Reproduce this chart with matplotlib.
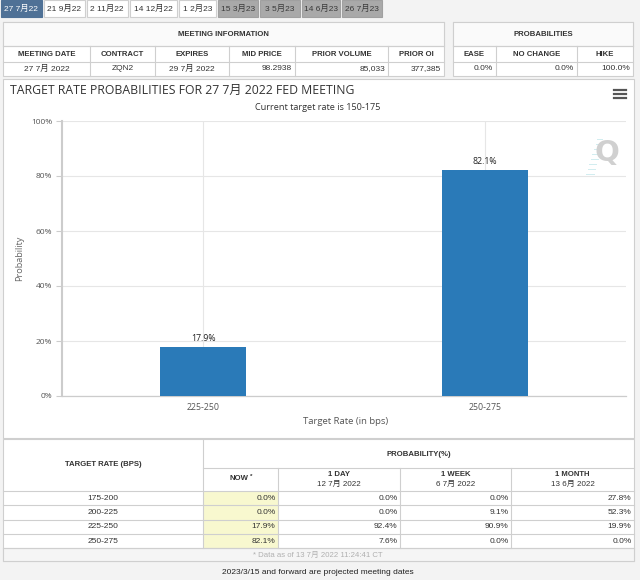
import matplotlib
matplotlib.use("Agg")
import matplotlib.pyplot as plt
from matplotlib.patches import Rectangle
from matplotlib.lines import Line2D

# ---------------- data ----------------
tabs = ['27 7月22', '21 9月22', '2 11月22', '14 12月22', '1 2月23',
        '15 3月23', '3 5月23', '14 6月23', '26 7月23']
tab_state = ['active', 'normal', 'normal', 'normal', 'normal',
             'proj', 'proj', 'proj', 'proj']

meeting_cols = ['MEETING DATE', 'CONTRACT', 'EXPIRES', 'MID PRICE', 'PRIOR VOLUME', 'PRIOR OI']
meeting_vals = ['27 7月 2022', 'ZQN2', '29 7月 2022', '98.2938', '85,033', '377,385']
prob_cols = ['EASE', 'NO CHANGE', 'HIKE']
prob_vals = ['0.0%', '0.0%', '100.0%']

categories = ['225-250', '250-275']
probabilities = [17.9, 82.1]
current_rate = '150-175'
meeting_label = '27 7月 2022'

rates = ['175-200', '200-225', '225-250', '250-275']
now_probs = [0.0, 0.0, 17.9, 82.1]
day_probs = [0.0, 0.0, 92.4, 7.6]
week_probs = [0.0, 9.1, 90.9, 0.0]
month_probs = [27.8, 52.3, 19.9, 0.0]
hist_headers = ['NOW', '1 DAY\n12 7月 2022', '1 WEEK\n6 7月 2022', '1 MONTH\n13 6月 2022']
data_note = '* Data as of 13 7月 2022 11:24:41 CT'
bottom_note = '2023/3/15 and forward are projected meeting dates'

# ---------------- layout helpers ----------------
W, H = 640, 580
fig = plt.figure(figsize=(W / 100, H / 100), dpi=100, facecolor='#f3f3f3')
TF = ['Liberation Sans', 'Noto Sans CJK SC', 'DejaVu Sans']
CF = ['Open Sans', 'Noto Sans CJK SC', 'DejaVu Sans']
BORDER = '#cfcfcf'


def fx(x):
    return x / W


def fy(y):
    return 1 - y / H


def rect(x0, y0, x1, y1, fc='white', ec=BORDER, lw=0.8, z=1):
    fig.add_artist(Rectangle((fx(x0), fy(y1)), (x1 - x0) / W, (y1 - y0) / H,
                             transform=fig.transFigure, fc=fc, ec=ec, lw=lw, zorder=z))


def hline(x0, x1, y, color=BORDER, lw=0.8, z=2):
    fig.add_artist(Line2D([fx(x0), fx(x1)], [fy(y), fy(y)], transform=fig.transFigure,
                          color=color, lw=lw, zorder=z))


def vline(x, y0, y1, color=BORDER, lw=0.8, z=2):
    fig.add_artist(Line2D([fx(x), fx(x)], [fy(y0), fy(y1)], transform=fig.transFigure,
                          color=color, lw=lw, zorder=z))


def txt(x, y, s, ha='center', size=5.8, weight='normal', color='#333333', family=TF, **kw):
    fig.text(fx(x), fy(y), s, ha=ha, va='center', fontsize=size, fontweight=weight,
             color=color, family=family, zorder=5, **kw)


# ---------------- tabs ----------------
tab_edges = [0, 43, 86, 129, 178, 217, 259, 301, 341, 383]
for i, name in enumerate(tabs):
    x0, x1 = tab_edges[i] + 0.5, tab_edges[i + 1] - 1
    st = tab_state[i]
    if st == 'active':
        fc, tc, ec = '#4f7196', 'white', '#4f7196'
    elif st == 'normal':
        fc, tc, ec = 'white', '#333333', BORDER
    else:
        fc, tc, ec = '#a9a9a9', '#3a3a3a', '#a0a0a0'
    rect(x0, 0, x1, 17, fc=fc, ec=ec)
    txt((x0 + x1) / 2, 9, name, size=6, color=tc)

# ---------------- meeting information ----------------
mx = [3, 90, 155, 229, 295, 388, 444]
rect(mx[0], 22, mx[-1], 76, fc='white')
rect(mx[0], 22, mx[-1], 46, fc='#fafafa')
txt((mx[0] + mx[-1]) / 2, 34, 'MEETING INFORMATION', size=5.6, weight='bold')
hline(mx[0], mx[-1], 46)
hline(mx[0], mx[-1], 62)
for i, (c, v) in enumerate(zip(meeting_cols, meeting_vals)):
    if i > 0:
        vline(mx[i], 46, 76)
    txt((mx[i] + mx[i + 1]) / 2, 54, c, size=5.6, weight='bold')
    if i < 3:
        txt((mx[i] + mx[i + 1]) / 2, 69, v, size=6)
    else:
        txt(mx[i + 1] - 3, 69, v, ha='right', size=6)

px = [453, 496, 577, 633]
rect(px[0], 22, px[-1], 76, fc='white')
rect(px[0], 22, px[-1], 46, fc='#fafafa')
txt((px[0] + px[-1]) / 2, 34, 'PROBABILITIES', size=5.6, weight='bold')
hline(px[0], px[-1], 46)
hline(px[0], px[-1], 62)
for i, (c, v) in enumerate(zip(prob_cols, prob_vals)):
    if i > 0:
        vline(px[i], 46, 76)
    txt((px[i] + px[i + 1]) / 2, 54, c, size=5.6, weight='bold')
    txt(px[i + 1] - 3, 69, v, ha='right', size=6)

# ---------------- chart panel ----------------
rect(3, 79, 634, 438, fc='white')
txt(10, 90, f'TARGET RATE PROBABILITIES FOR {meeting_label} FED MEETING', ha='left',
    size=8.8, color='#333333', family=CF)
txt(318, 107, f'Current target rate is {current_rate}', size=6.6, color='#333333', family=CF)
for yy in (90, 94, 98):
    hline(614, 626, yy, color='#555555', lw=1.6, z=6)

L, R, T, B = 62, 626, 121, 396
ax = fig.add_axes([fx(L), fy(B), (R - L) / W, (B - T) / H])
ax.set_zorder(3)
ax.set_facecolor('white')
xs = list(range(len(categories)))
bars = ax.bar(xs, probabilities, width=0.305, color='#2a7ab8', zorder=3)
for x, p in zip(xs, probabilities):
    ax.text(x, p + 1.5, f'{p:.1f}%', ha='center', va='bottom', fontsize=6.3,
            color='#222222', family=CF)
ax.set_xlim(-0.5, len(categories) - 0.5)
ax.set_ylim(0, 100)
ax.set_yticks([0, 20, 40, 60, 80, 100])
ax.set_yticklabels([f'{v}%' for v in [0, 20, 40, 60, 80, 100]])
ax.set_xticks(xs)
ax.set_xticklabels(categories)
ax.grid(True, axis='both', color='#e6e6e6', lw=0.8, zorder=0)
ax.set_axisbelow(True)
for s in ['top', 'right']:
    ax.spines[s].set_visible(False)
ax.spines['left'].set_color('#cccccc')
ax.spines['left'].set_linewidth(1.5)
ax.spines['bottom'].set_color('#cccccc')
ax.spines['bottom'].set_linewidth(0.9)
ax.tick_params(axis='y', length=4, width=0.8, color='#cccccc', pad=3,
               labelsize=6, labelcolor='#555555')
ax.tick_params(axis='x', length=0, pad=5, labelsize=6.3, labelcolor='#555555')
for lab in ax.get_xticklabels() + ax.get_yticklabels():
    lab.set_family(CF)
ax.set_ylabel('Probability', fontsize=6.6, color='#666666', family=CF)
ax.yaxis.set_label_coords((24 - L) / (R - L), 0.5)
ax.set_xlabel('Target Rate (in bps)', fontsize=6.8, color='#555555', family=CF)
ax.xaxis.set_label_coords(0.502, (B - 417) / (B - T))

# Q watermark (drawn above the axes)
fig.text(fx(607), fy(153), 'Q', ha='center', va='center', fontsize=21, fontweight='bold',
         color='#d0d0d0', family=['DejaVu Sans'], zorder=10)
for k in range(8):
    fig.add_artist(Line2D([fx(586 + k * 1.6), fx(594 + k * 1.2)],
                          [fy(174 - k * 5), fy(174 - k * 5)], transform=fig.transFigure,
                          color='#c5e8ec', lw=0.7, alpha=0.8, zorder=10))

# ---------------- bottom table ----------------
bx = [3, 203, 278, 400, 511, 634]
rect(bx[0], 439, bx[-1], 561, fc='white')
row_y = [491, 505.3, 519.6, 533.9, 548.2]
rect(bx[1], row_y[0], bx[2], row_y[-1], fc='#f8f8cf', ec='none', z=1.5)
rect(bx[0], 548.2, bx[-1], 561, fc='#f5f5f5', ec=BORDER, z=1.6)
hline(bx[1], bx[-1], 468)
hline(bx[0], bx[-1], 491)
for y in row_y[1:]:
    hline(bx[0], bx[-1], y)
vline(bx[1], 439, 548.2)
for x in bx[2:-1]:
    vline(x, 468, 548.2)
txt((bx[0] + bx[1]) / 2, 465, 'TARGET RATE (BPS)', size=5.6, weight='bold')
txt((bx[1] + bx[-1]) / 2, 455, 'PROBABILITY(%)', size=5.6, weight='bold')
for i, h in enumerate(hist_headers):
    cx = (bx[i + 1] + bx[i + 2]) / 2
    if i == 0:
        txt(cx - 1, 479, h, size=5.6, weight='bold')
        txt(cx + 11, 476, '*', size=4.5, weight='bold')
    else:
        top, bot = h.split('\n')
        txt(cx, 474, top, size=5.6, weight='bold')
        txt(cx, 484, bot, size=5.8)
cols = [now_probs, day_probs, week_probs, month_probs]
for r, rate in enumerate(rates):
    yc = (row_y[r] + row_y[r + 1]) / 2
    txt((bx[0] + bx[1]) / 2, yc, rate, size=6)
    for c, vals in enumerate(cols):
        txt(bx[c + 2] - 2.5, yc, f'{vals[r]:.1f}%', ha='right', size=6)
txt(318, 555, data_note, size=5.6, color='#b0b0b0')
txt(318, 573, bottom_note, size=6, color='#222222')

fig.savefig('out.png', dpi=100, facecolor=fig.get_facecolor())
